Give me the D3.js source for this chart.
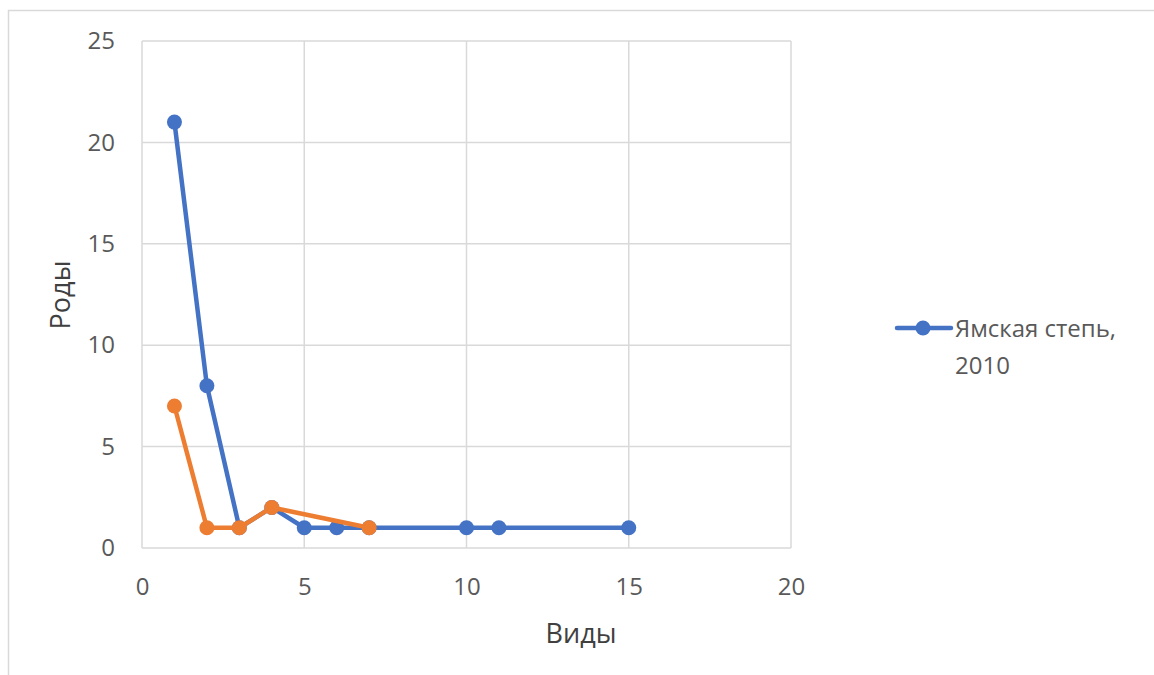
<!DOCTYPE html>
<html>
<head>
<meta charset="utf-8">
<script src="https://cdn.jsdelivr.net/npm/d3@7"></script>
<style>
  html, body { margin: 0; padding: 0; background: #fff; }
  svg { display: block; font-family: "Open Sans", "Noto Sans", sans-serif; }
</style>
</head>
<body>
<svg id="chart" width="1154" height="675"></svg>
<script>
// Series: number of species (x) vs number of genera (y)
const blueX = [1, 2, 3, 4, 5, 6, 7, 10, 11, 15];
const blueY = [21, 8, 1, 2, 1, 1, 1, 1, 1, 1];
const orangeX = [1, 2, 3, 4, 7];
const orangeY = [7, 1, 1, 2, 1];
const xTicks = [0, 5, 10, 15, 20];
const yTicks = [0, 5, 10, 15, 20, 25];
const legendLines = ["Ямская степь,", "2010"];
const xTitle = "Виды";
const yTitle = "Роды";

const svg = d3.select("#chart");

// outer chart frame
svg.append("rect")
  .attr("x", 8.5).attr("y", 10.5)
  .attr("width", 1160).attr("height", 680)
  .attr("fill", "none").attr("stroke", "#d9d9d9").attr("stroke-width", 1.5);

const x = d3.scaleLinear().domain([0, 20]).range([142, 791]);
const y = d3.scaleLinear().domain([0, 25]).range([548, 41]);

// gridlines
const grid = svg.append("g");
grid.selectAll("line.v").data(xTicks).join("line")
  .attr("x1", d => x(d)).attr("x2", d => x(d))
  .attr("y1", y(0)).attr("y2", y(25))
  .attr("stroke", "#d9d9d9").attr("stroke-width", 1.5);
grid.selectAll("line.h").data(yTicks).join("line")
  .attr("x1", x(0)).attr("x2", x(20))
  .attr("y1", d => y(d)).attr("y2", d => y(d))
  .attr("stroke", "#d9d9d9").attr("stroke-width", 1.5);

// axes (labels only)
const xAxis = svg.append("g")
  .attr("transform", `translate(0,${y(0)})`)
  .call(d3.axisBottom(x).tickValues(xTicks).tickSize(0).tickPadding(30));
const yAxis = svg.append("g")
  .attr("transform", `translate(${x(0)},0)`)
  .call(d3.axisLeft(y).tickValues(yTicks).tickSize(0).tickPadding(27));
[xAxis, yAxis].forEach(g => {
  g.select(".domain").remove();
  g.selectAll("text")
    .attr("font-family", "'Open Sans', 'Noto Sans', sans-serif")
    .attr("font-size", 24).attr("fill", "#595959");
});

// axis titles
svg.append("text")
  .attr("x", 581).attr("y", 643)
  .attr("text-anchor", "middle")
  .attr("font-size", 27).attr("fill", "#404040")
  .text(xTitle);
svg.append("text")
  .attr("transform", "translate(70,295) rotate(-90)")
  .attr("text-anchor", "middle")
  .attr("font-size", 27).attr("fill", "#404040")
  .text(yTitle);

const line = d3.line().x(d => x(d[0])).y(d => y(d[1]));

function drawSeries(xs, ys, color) {
  const pts = xs.map((v, i) => [v, ys[i]]);
  const g = svg.append("g");
  g.append("path").datum(pts)
    .attr("d", line)
    .attr("fill", "none").attr("stroke", color)
    .attr("stroke-width", 4.5).attr("stroke-linejoin", "round");
  g.selectAll("circle").data(pts).join("circle")
    .attr("cx", d => x(d[0])).attr("cy", d => y(d[1]))
    .attr("r", 7.5).attr("fill", color);
}

const blue = "#4472c4";
const orange = "#ed7d31";
drawSeries(blueX, blueY, blue);
drawSeries(orangeX, orangeY, orange);

// legend
const lg = svg.append("g");
lg.append("line")
  .attr("x1", 897).attr("x2", 951).attr("y1", 328).attr("y2", 328)
  .attr("stroke", blue).attr("stroke-width", 4.5).attr("stroke-linecap", "round");
lg.append("circle").attr("cx", 923).attr("cy", 328).attr("r", 7.5).attr("fill", blue);
lg.selectAll("text").data(legendLines).join("text")
  .attr("x", 955).attr("y", (d, i) => 337 + i * 37)
  .attr("font-size", 24).attr("fill", "#595959")
  .text(d => d);
</script>
</body>
</html>
